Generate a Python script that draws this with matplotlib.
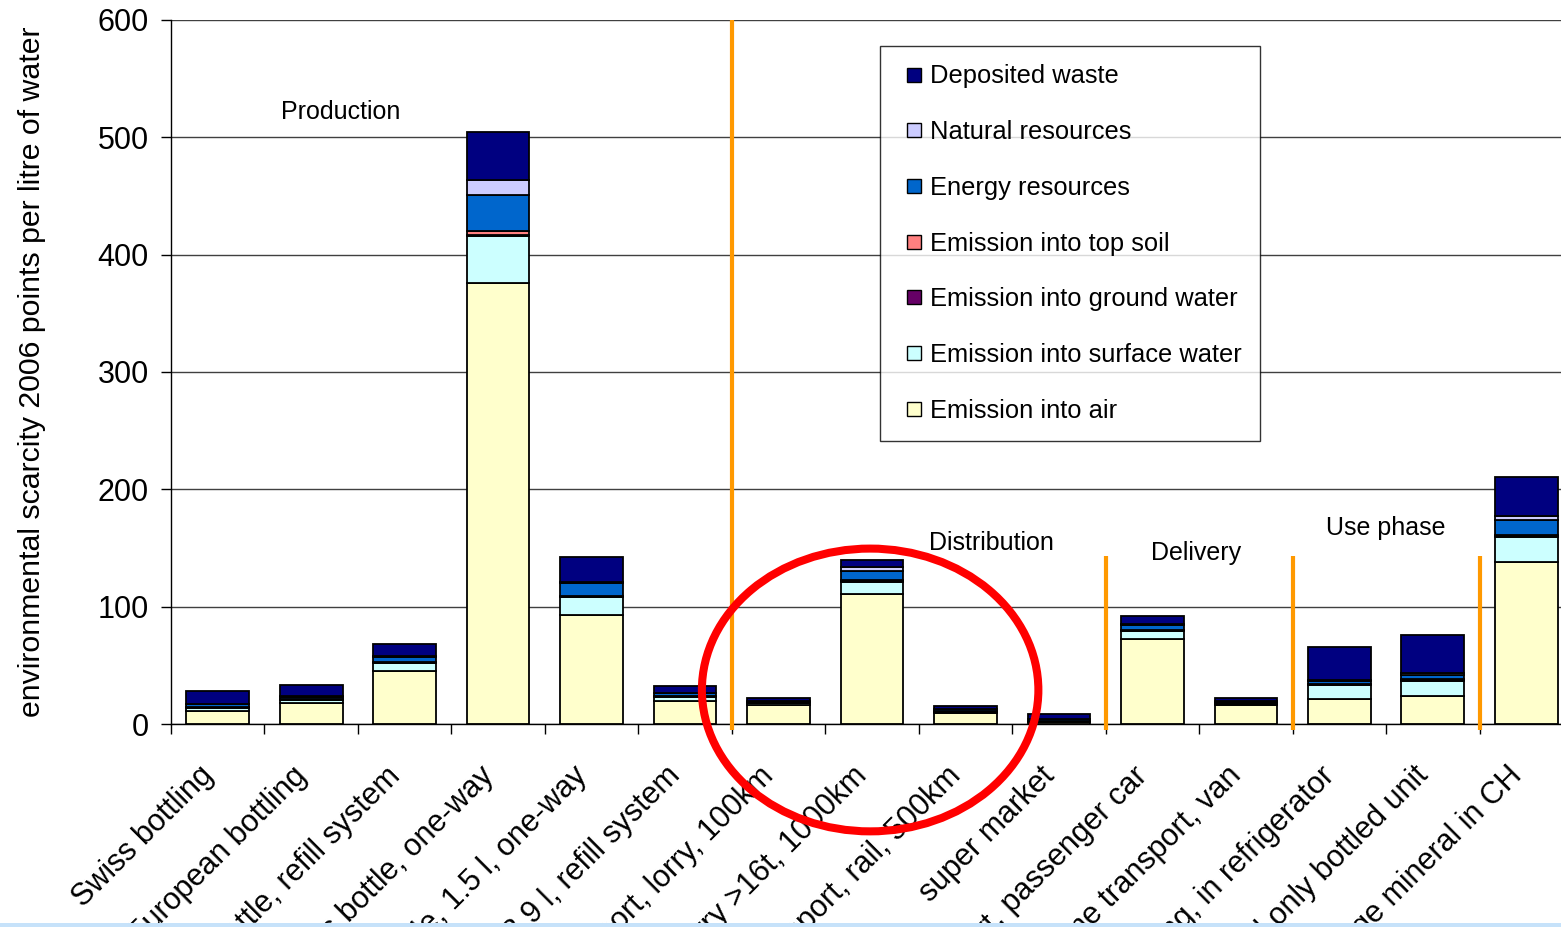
import numpy as np
import matplotlib
matplotlib.use("Agg")
import matplotlib.pyplot as plt
from matplotlib.patches import Ellipse, Rectangle
from matplotlib.lines import Line2D
from matplotlib.transforms import ScaledTranslation

plt.rcParams['font.family'] = ['Liberation Sans', 'DejaVu Sans']

categories = [
    "Swiss bottling",
    "European bottling",
    "PET bottle, refill system",
    "Glass bottle, one-way",
    "PET bottle, 1.5 l, one-way",
    "Water cooler 18.9 l, refill system",
    "Transport, lorry, 100km",
    "Transport, lorry >16t, 1000km",
    "Transport, rail, 500km",
    "super market",
    "Shopping transport, passenger car",
    "Home transport, van",
    "Cooling, in refrigerator",
    "Cooled only bottled unit",
    "Average mineral in CH",
]

# points per litre, stacked bottom to top
air = [11, 18, 45, 376, 93, 20, 16.5, 111, 9.5, 2, 72.5, 16, 21, 24, 138]
surface_water = [3, 2.5, 7, 40, 15, 3, 1, 10, 1, 0.5, 6.5, 1, 12, 13, 21]
ground_water = [0.5, 0.5, 0.3, 0.5, 0.5, 0.5, 0.3, 0.5, 0.3, 0.2, 0.5, 0.3, 0.5, 0.5, 1]
top_soil = [0.2, 0.2, 0.5, 4, 0.5, 0.3, 0.2, 1.5, 0.2, 0.1, 0.5, 0.2, 0.3, 0.5, 1]
energy = [2, 2, 4, 30, 11, 2.5, 1, 7, 1.5, 1.5, 4, 1.5, 3, 4, 13]
natural = [0.5, 0.5, 1, 13, 1, 0.5, 0.5, 3.5, 0.5, 0.3, 1, 0.5, 1, 1.5, 3]
deposited = [11, 9.5, 10, 41, 21, 6, 2.5, 6.5, 2.5, 4, 7, 2.5, 28, 32.5, 33.5]

series = [
    ("Emission into air", air, "#FFFFCC"),
    ("Emission into surface water", surface_water, "#CCFFFF"),
    ("Emission into ground water", ground_water, "#660066"),
    ("Emission into top soil", top_soil, "#FF8080"),
    ("Energy resources", energy, "#0066CC"),
    ("Natural resources", natural, "#CCCCFF"),
    ("Deposited waste", deposited, "#000080"),
]

phases = [("Production", 1.32, 522), ("Distribution", 8.28, 154),
          ("Delivery", 10.47, 146), ("Use phase", 12.5, 167)]
# phase borders: index of the first bar after the border
phase_breaks = [6, 10, 12, 14]

fig = plt.figure(figsize=(15.61, 9.27), dpi=100)
ax = fig.add_axes([171 / 1561, 1 - 724 / 927, 1402 / 1561, 704 / 927])

x = np.arange(len(categories))
bottom = np.zeros(len(categories))
handles = []
for name, vals, color in series:
    vals = np.array(vals, dtype=float)
    ax.bar(x, vals, 0.67, bottom=bottom, color=color, edgecolor='black',
           linewidth=1.3, zorder=3)
    bottom += vals
    handles.append(Line2D([], [], marker='s', linestyle='none', markersize=10,
                          markerfacecolor=color, markeredgecolor='black',
                          markeredgewidth=1, label=name))

ax.set_xlim(-0.5, len(categories) - 0.5)
ax.set_ylim(0, 600)
ax.set_yticks(np.arange(0, 601, 100))
ax.yaxis.grid(True, color='#404040', linewidth=1)
ax.set_axisbelow(True)
ax.tick_params(axis='y', direction='out', length=7, width=1, labelsize=22, pad=9)

ax.set_xticks(np.arange(len(categories) + 1) - 0.5)
ax.set_xticklabels([])
ax.tick_params(axis='x', which='major', direction='out', length=7, width=1)
ax.set_xticks(x, minor=True)
ax.set_xticklabels(categories, minor=True, rotation=45, ha='right', va='center',
                   rotation_mode='anchor', fontsize=22)
ax.tick_params(axis='x', which='minor', length=0, pad=42)
shift = ScaledTranslation(-0.09, 0.11, fig.dpi_scale_trans)
for lbl in ax.get_xticklabels(minor=True):
    lbl.set_transform(lbl.get_transform() + shift)

for side in ('top', 'right'):
    ax.spines[side].set_visible(False)
ax.spines['left'].set_linewidth(1)
ax.spines['bottom'].set_linewidth(1)

ax.set_ylabel("environmental scarcity 2006 points per litre of water",
              fontsize=21.75, labelpad=37)

for name, px, py in phases:
    ax.text(px, py, name, fontsize=18, ha='center', va='center', zorder=5)

# orange separators between the life cycle phases
for i, b in enumerate(phase_breaks):
    top = 600 if i == 0 else 143
    ax.plot([b - 0.5, b - 0.5], [-5, top], color='#FF9900', linewidth=3,
            clip_on=False, zorder=4, solid_capstyle='butt')

leg = ax.legend(handles=handles[::-1], loc='upper left',
                bbox_to_anchor=(0.5057, 0.963), fontsize=18.4, frameon=True,
                fancybox=False, edgecolor='black', handlelength=1.22,
                handletextpad=0.0, labelspacing=1.24, borderpad=0.72,
                borderaxespad=0)
leg.get_frame().set_linewidth(1)
leg.set_zorder(6)

ring = Ellipse((6.98, 29), 3.6, 241, fill=False, edgecolor='#FF0000',
               linewidth=5.8, clip_on=False, zorder=7)
ax.add_patch(ring)

fig.patches.append(Rectangle((0, 0), 1, 4 / 927, transform=fig.transFigure,
                             facecolor='#C6E2FA', edgecolor='none', zorder=10))

fig.savefig("out.png", dpi=100)
